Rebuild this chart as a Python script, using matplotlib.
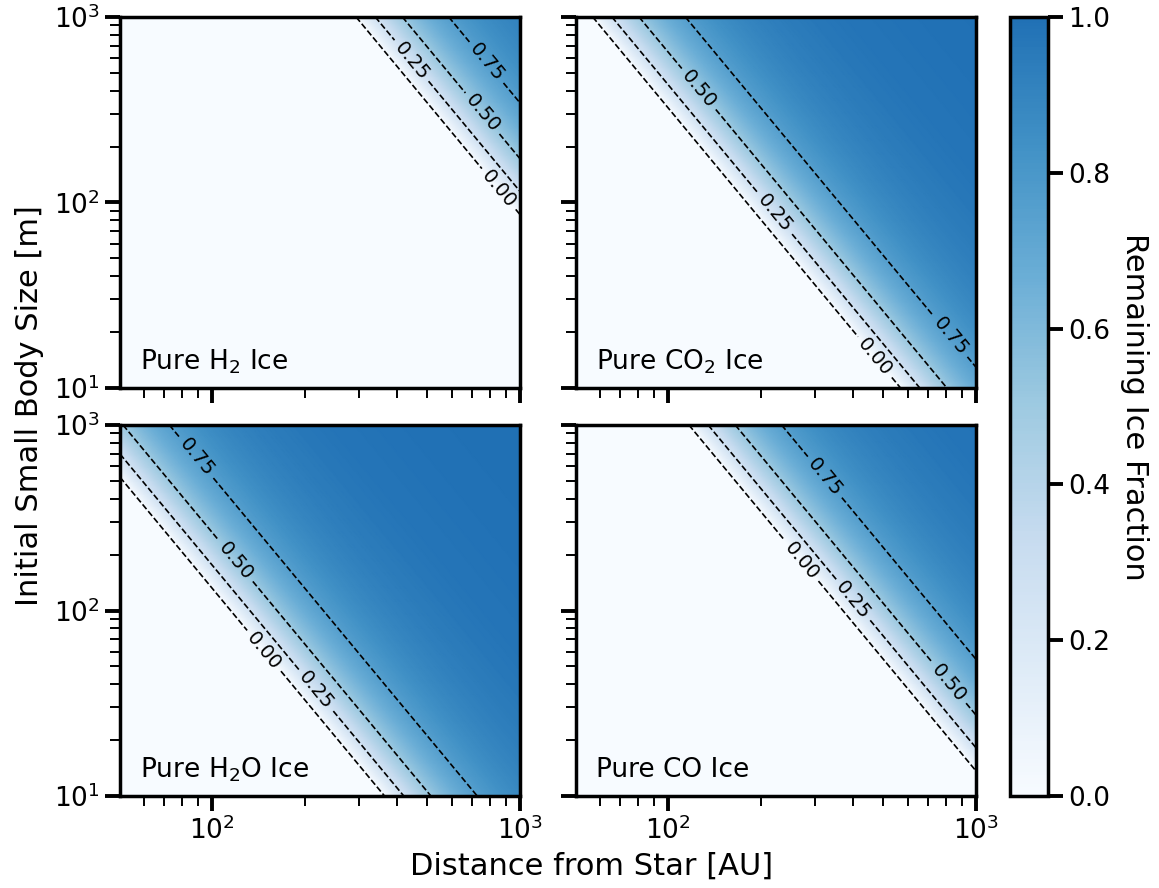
import numpy as np
import matplotlib
matplotlib.use('Agg')
import matplotlib.pyplot as plt
from matplotlib.colors import LinearSegmentedColormap

# ice species shown in each panel (row-major) and log10 of the erosion constant K [m AU^2]
species = ['Pure H$_2$ Ice', 'Pure CO$_2$ Ice', 'Pure H$_2$O Ice', 'Pure CO Ice']
log_k = [7.935, 6.51, 6.12, 7.135]
levels = [0.0, 0.25, 0.50, 0.75]

# contour label spots in pixels (x, y from top), one list per panel
label_px = [
    [(500, 188), (410, 62), (483, 113), (487, 62)],
    [(875, 357), (777, 212), (700, 88), (952, 335)],
    [(265, 650), (317, 690), (237, 560), (197, 457)],
    [(800, 562), (853, 600), (950, 682), (825, 477)],
]

r_min, r_max = 50.2, 1000.0
s_min, s_max = 10.0, 1000.0

W, H = 1159, 888
plt.rcParams['font.family'] = 'DejaVu Sans'

# Blues, cut off before the darkest shades
blues = plt.get_cmap('Blues')
cmap = LinearSegmentedColormap.from_list('blues_cut', blues(np.linspace(0, 0.75, 256)))

r = np.logspace(np.log10(r_min), np.log10(r_max), 400)
s = np.logspace(np.log10(s_min), np.log10(s_max), 400)
R, S = np.meshgrid(r, s)

fig = plt.figure(figsize=(W / 100, H / 100), dpi=100)

# axes boxes in pixels: left, top, right, bottom
boxes = [(120, 17, 520, 388), (576, 17, 976, 388),
         (120, 425, 520, 796), (576, 425, 976, 796)]

def px_axes(l, t, rgt, b):
    return fig.add_axes([l / W, 1 - b / H, (rgt - l) / W, (b - t) / H])

for i, (name, lk) in enumerate(zip(species, log_k)):
    ax = px_axes(*boxes[i])
    frac_raw = 1.0 - 10 ** lk / (S * R ** 2)
    frac = np.clip(frac_raw, 0, 1)
    mesh = ax.pcolormesh(R, S, frac, cmap=cmap, vmin=0, vmax=1, shading='gouraud', rasterized=True)
    cs = ax.contour(R, S, frac_raw, levels=levels, colors='k', linestyles='--', linewidths=1.2)
    ax.set_xscale('log')
    ax.set_yscale('log')
    ax.set_xlim(r_min, r_max)
    ax.set_ylim(s_min, s_max)

    fig.canvas.draw()
    inv = ax.transData.inverted()
    pos = [inv.transform((px, H - py)) for px, py in label_px[i]]
    ax.clabel(cs, levels=levels, fmt='%.2f', fontsize=14, inline=True, manual=pos)

    ax.text(0.05, 0.05, name, transform=ax.transAxes, fontsize=19, ha='left', va='baseline')

    for sp in ax.spines.values():
        sp.set_linewidth(2.5)
    ax.tick_params(which='major', direction='out', length=11, width=2.8, labelsize=19)
    ax.tick_params(which='minor', direction='out', length=7.5, width=1.4)
    if i < 2:
        ax.tick_params(labelbottom=False)
    if i % 2 == 1:
        ax.tick_params(labelleft=False)

cax = px_axes(1010, 17, 1048, 796)
cb = fig.colorbar(mesh, cax=cax)
cb.outline.set_linewidth(2.5)
cb.set_ticks([0.0, 0.2, 0.4, 0.6, 0.8, 1.0])
cb.ax.tick_params(direction='out', length=11, width=2.8, labelsize=19)
cb.set_label('Remaining Ice Fraction', fontsize=22, rotation=270, labelpad=28)

fig.text(592 / W, 1 - 866 / H, 'Distance from Star [AU]', fontsize=22, ha='center', va='center')
fig.text(30 / W, 1 - 406 / H, 'Initial Small Body Size [m]', fontsize=22, ha='center', va='center', rotation=90)

fig.savefig('out.png', dpi=100)
